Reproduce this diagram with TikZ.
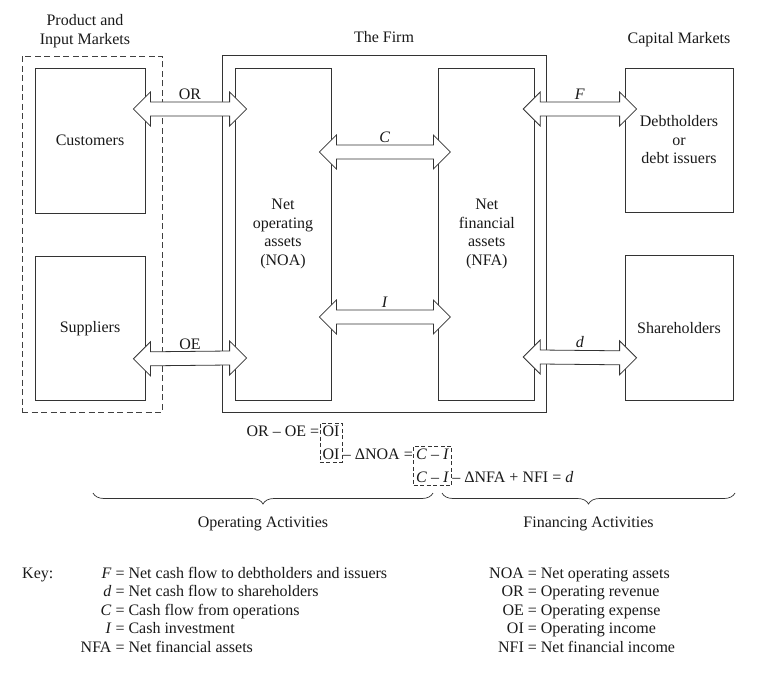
\documentclass[tikz,border=0pt]{standalone}
\usepackage{fontspec}
\setmainfont{Liberation Serif}
\usetikzlibrary{positioning,calc,fit,decorations.pathreplacing}

\tikzset{
    box/.style={draw=black!80, line width=0.8pt, align=center, inner sep=2pt},
    marketbox/.style={draw=black!75, line width=0.8pt, dash pattern=on 6pt off 3.5pt},
    firmbox/.style={draw=black!80, line width=0.8pt},
    fatarrow/.style={draw=black!80, fill=white, line width=0.8pt, line join=miter,
        to path={let \p1=(\tikztostart), \p2=(\tikztotarget) in
            (\x1,\y1) -- (\x1+17pt,\y1+17pt) -- (\x1+17pt,\y1+7pt) -- (\x2-17pt,\y2+7pt)
            -- (\x2-17pt,\y2+17pt) -- (\x2,\y2) -- (\x2-17pt,\y2-17pt) -- (\x2-17pt,\y2-7pt)
            -- (\x1+17pt,\y1-7pt) -- (\x1+17pt,\y1-17pt) -- cycle
            (\x1/2+\x2/2,\y1+7pt) -- ++(0pt,0pt) \tikztonodes}},
    flowlbl/.style={above, inner sep=2pt},
    eq/.style={inner sep=1.5pt},
    eqbox/.style={draw=black!80, line width=0.7pt, dash pattern=on 4pt off 2.5pt, inner sep=1pt},
    brace/.style={decorate, decoration={brace, mirror, amplitude=11pt}, draw=black!80, line width=0.7pt}
}

\begin{document}
\begin{tikzpicture}[x=1pt, y=-1pt,
    every node/.style={font=\fontsize{16}{18.5}\selectfont, text=black!90}]

  \useasboundingbox (0,0) rectangle (767,679);

  % Product and input markets
  \node[marketbox, minimum width=140pt, minimum height=356pt] (markets) at (92,234) {};
  \node[box, minimum width=110pt, minimum height=145pt] (cust) at (90,140.5) {Customers};
  \node[box, minimum width=110pt, minimum height=144pt, below=43pt of cust] (supp) {Suppliers};
  \node[align=center] (marketslbl) at (85,31) {Product and\\Input Markets};

  % The firm
  \node[firmbox, minimum width=324pt, minimum height=357pt] (firm) at (384,233.5) {};
  \node[box, minimum width=96pt, minimum height=332pt] (noa) at (283,234) {Net\\operating\\assets\\(NOA)};
  \node[box, minimum width=96pt, minimum height=332pt, right=107pt of noa] (nfa) {Net\\financial\\assets\\(NFA)};
  \node[anchor=base] (firmlbl) at (384,43) {The Firm};

  % Capital markets
  \node[box, minimum width=108pt, minimum height=144pt] (debt) at (679,140) {Debtholders\\or\\debt issuers};
  \node[box, minimum width=108pt, minimum height=145pt, below=43pt of debt] (share) {Shareholders};
  \node[anchor=base] (capitallbl) at (679,43.5) {Capital Markets};

  % Cash flows
  \draw[fatarrow] ([shift={(-12,-31.5)}]cust.east) to node[flowlbl] (orlbl) {OR} ([shift={(12,-125)}]noa.west);
  \draw[fatarrow] ([shift={(-12,30)}]supp.east) to node[flowlbl] (oelbl) {OE} ([shift={(12,124)}]noa.west);
  \draw[fatarrow] ([shift={(-12,-82)}]noa.east) to node[flowlbl] (clbl) {\textit{C}} ([shift={(12,-82)}]nfa.west);
  \draw[fatarrow] ([shift={(-12,83)}]noa.east) to node[flowlbl] (ilbl) {\textit{I}} ([shift={(12,83)}]nfa.west);
  \draw[fatarrow] ([shift={(-12,-125)}]nfa.east) to node[flowlbl] (flbl) {\textit{F}} ([shift={(12,-31)}]debt.west);
  \draw[fatarrow] ([shift={(-12,123)}]nfa.east) to node[flowlbl] (dlbl) {\textit{d}} ([shift={(12,29.5)}]share.west);

  % Equations
  \node[eq] (oi1) at (331,431) {OI};
  \node[eq, anchor=base east] (eq1) at (oi1.base west) {OR -- OE =};
  \node[eq, below=9pt of oi1] (oi2) {OI};
  \node[eq, anchor=base west] (eq2) at (oi2.base east) {-- ΔNOA =};
  \node[eq, anchor=base west] (ci1) at (eq2.base east) {\textit{C} -- \textit{I}};
  \node[eq, below=9pt of ci1] (ci2) {\textit{C} -- \textit{I}};
  \node[eq, anchor=base west] (eq3) at (ci2.base east) {-- ΔNFA + NFI = \textit{d}};
  \node[eqbox, fit=(oi1) (oi2)] (oibox) {};
  \node[eqbox, fit=(ci1) (ci2)] (cibox) {};

  % Activity braces
  \draw[brace] (93,493) -- node[below=20pt] (oplbl) {Operating Activities} (433,493);
  \draw[brace] (442,493) -- node[below=20pt] (finlbl) {Financing Activities} (735,493);

  % Key
  \node[anchor=base west, inner sep=0pt] (keylbl) at (22,578) {Key:};
  \node[anchor=base west, inner sep=0pt] (keyleft) at (80.5,578) {%
    \begin{tabular}[t]{@{}r@{\ =\ }l@{}}
      \textit{F} & Net cash flow to debtholders and issuers\\
      \textit{d} & Net cash flow to shareholders\\
      \textit{C} & Cash flow from operations\\
      \textit{I} & Cash investment\\
      NFA & Net financial assets
    \end{tabular}};
  \node[anchor=base west, inner sep=0pt] (keyright) at (489,578) {%
    \begin{tabular}[t]{@{}r@{\ =\ }l@{}}
      NOA & Net operating assets\\
      OR & Operating revenue\\
      OE & Operating expense\\
      OI & Operating income\\
      NFI & Net financial income
    \end{tabular}};

\end{tikzpicture}
\end{document}
